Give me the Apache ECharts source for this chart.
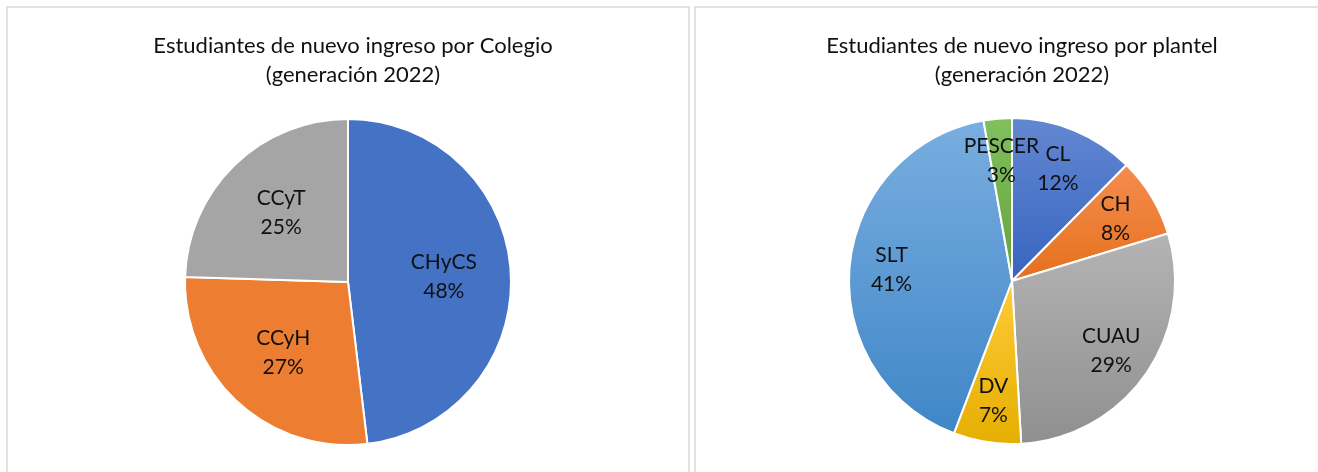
<!DOCTYPE html>
<html><head><meta charset="utf-8">
<script src="https://cdn.jsdelivr.net/npm/echarts@6/dist/echarts.min.js"></script>
<style>html,body{margin:0;padding:0;background:#fff}#c{width:1318px;height:472px}</style>
</head><body><div id="c"></div>
<script>
const colegioCats = ['CHyCS','CCyH','CCyT'];
const colegioVals = [48.1, 27.4, 24.5];
const plantelCats = ['CL','CH','CUAU','DV','SLT','PESCER'];
const plantelVals = [12.4, 7.9, 28.8, 6.7, 41.4, 2.8];
const titleLeft = 'Estudiantes de nuevo ingreso por Colegio\n(generación 2022)';
const titleRight = 'Estudiantes de nuevo ingreso por plantel\n(generación 2022)';

const colegioColors = ['#4472C4','#ED7D31','#A5A5A5'];
const plantelGrad = [['#6388d2','#3764bf'],['#f58d4f','#e5701c'],['#b4b4b4','#8f8f8f'],['#ffcb3a','#e5ae00'],['#79aee0','#3f86c7'],['#82bf5e','#63a33d']];
const FONT = 'Lato';

function grad(c){return {type:'linear',x:0,y:0,x2:0,y2:1,colorStops:[{offset:0,color:c[0]},{offset:1,color:c[1]}]};}
const lbl = {show:true,position:'inside',color:'#111',fontFamily:FONT,fontSize:21,lineHeight:29,rotate:0.001,overflow:'none',
  formatter:p=>p.name+'\n'+Math.round(p.percent)+'%'};

const chart = echarts.init(document.getElementById('c'));
chart.setOption({
  animation:false,
  graphic:[
    {type:'rect',shape:{x:7,y:7,width:682,height:520},style:{fill:'none',stroke:'#d9d9d9',lineWidth:1.5},z:-1},
    {type:'rect',shape:{x:695,y:7,width:640,height:520},style:{fill:'none',stroke:'#d9d9d9',lineWidth:1.5},z:-1}
  ],
  title:[
    {text:titleLeft,left:348,top:26,textAlign:'center',textStyle:{fontFamily:FONT,fontWeight:'normal',fontSize:22,lineHeight:29,color:'#111'}},
    {text:titleRight,left:1017,top:26,textAlign:'center',textStyle:{fontFamily:FONT,fontWeight:'normal',fontSize:22,lineHeight:29,color:'#111'}}
  ],
  series:[
    {type:'pie',center:[348,282],radius:163,startAngle:90,clockwise:true,label:{show:false},labelLine:{show:false},
      itemStyle:{borderColor:'#fff',borderWidth:2},
      data:colegioCats.map((n,i)=>({name:n,value:colegioVals[i],itemStyle:{color:colegioColors[i]}}))},
    {type:'pie',center:[348,282],radius:186,startAngle:90,clockwise:true,silent:true,avoidLabelOverlap:false,label:lbl,labelLine:{show:false},
      labelLayout:{hideOverlap:false},
      itemStyle:{color:'rgba(0,0,0,0)',borderWidth:0},z:5,
      data:colegioCats.map((n,i)=>({name:n,value:colegioVals[i]}))},
    {type:'pie',center:[1012,281],radius:163,startAngle:90,clockwise:true,label:{show:false},labelLine:{show:false},
      itemStyle:{borderColor:'#fff',borderWidth:2},
      data:plantelCats.map((n,i)=>({name:n,value:plantelVals[i],itemStyle:{color:grad(plantelGrad[i])}}))},
    {type:'pie',center:[1012,281],radius:236,startAngle:90,clockwise:true,silent:true,avoidLabelOverlap:false,label:lbl,labelLine:{show:false},
      labelLayout:{hideOverlap:false},
      itemStyle:{color:'rgba(0,0,0,0)',borderWidth:0},z:5,
      data:plantelCats.map((n,i)=>({name:n,value:plantelVals[i]}))}
  ]
});
</script></body></html>
